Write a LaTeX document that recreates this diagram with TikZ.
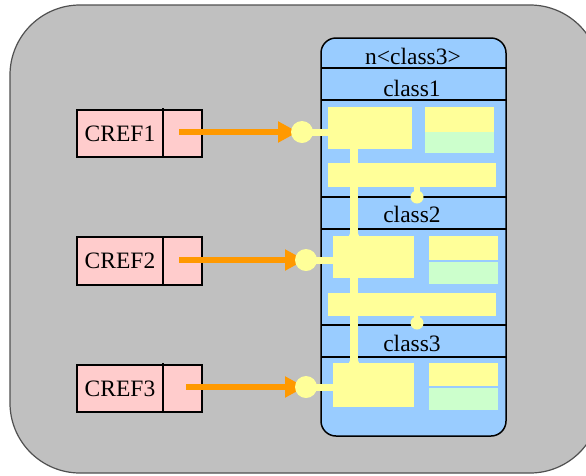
\documentclass[tikz,border=0pt]{standalone}
\usepackage{fontspec}
\setmainfont{Liberation Serif}
\usetikzlibrary{arrows.meta}
\definecolor{bggray}{HTML}{C0C0C0}
\definecolor{framegray}{HTML}{505050}
\definecolor{pinkc}{HTML}{FFCCCC}
\definecolor{bluec}{HTML}{99CCFF}
\definecolor{yelc}{HTML}{FFFF99}
\definecolor{greenc}{HTML}{CCFFCC}
\definecolor{orangec}{HTML}{FF9900}
\tikzset{
  rect/.style={inner sep=0, outer sep=0, anchor=north west},
  ybox/.style={rect, fill=yelc},
  gbox/.style={rect, fill=greenc},
  crefbox/.style={rect, draw=black, line width=1.3pt, fill=pinkc, font=\fontsize{23.5}{27}\selectfont},
  lbl/.style={inner sep=0, anchor=base, font=\fontsize{23.5}{27}\selectfont},
  ydot/.style={circle, fill=yelc, inner sep=0, outer sep=0, minimum size=22pt},
  jdot/.style={circle, fill=yelc, inner sep=0, outer sep=0, minimum size=13pt},
  ylink/.style={draw=yelc, line width=7pt},
  refarrow/.style={draw=orangec, line width=6.5pt, -{Triangle[length=20pt,width=20pt]}},
  sepline/.style={draw=black, line width=1.3pt}
}
\begin{document}
\begin{tikzpicture}[x=1pt,y=-1pt]
\useasboundingbox (0,0) rectangle (586,475);
\fill[white] (0,0) rectangle (586,475);
% outer frame
\filldraw[fill=bggray, draw=framegray, line width=1.2pt, rounded corners=70pt] (10,5) rectangle (600,473);
% blue class box
\fill[bluec, rounded corners=15pt] (321,38) rectangle (506,436);
\draw[sepline] (321,68) -- (506,68);
\draw[sepline] (321,100) -- (506,100);
\draw[sepline] (321,197) -- (506,197);
\draw[sepline] (321,229) -- (506,229);
\draw[sepline] (321,325) -- (506,325);
\draw[sepline] (321,357) -- (506,357);
\draw[black, line width=1.5pt, rounded corners=15pt] (321,38) rectangle (506,436);
\node[lbl] (hdr) at (413,64) {n<class3>};
\node[lbl] (c1) at (412,96) {class1};
\node[lbl] (c2) at (412,222) {class2};
\node[lbl] (c3) at (412,351) {class3};
% yellow / green blocks
\node[ybox, minimum width=84pt, minimum height=42pt] (b1) at (328,107) {};
\node[ybox, minimum width=69pt, minimum height=25pt] (r1) at (425,107) {};
\node[gbox, minimum width=69pt, minimum height=21pt] (g1) at (425,132) {};
\node[ybox, minimum width=168pt, minimum height=24pt] (bar1) at (328,163) {};
\node[ybox, minimum width=81pt, minimum height=42pt] (b2) at (333,236) {};
\node[ybox, minimum width=69pt, minimum height=24pt] (r2) at (429,236) {};
\node[gbox, minimum width=69pt, minimum height=22pt] (g2) at (429,262) {};
\node[ybox, minimum width=168pt, minimum height=23pt] (bar2) at (328,293) {};
\node[ybox, minimum width=81pt, minimum height=44pt] (b3) at (333,363) {};
\node[ybox, minimum width=69pt, minimum height=23pt] (r3) at (429,363) {};
\node[gbox, minimum width=69pt, minimum height=22pt] (g3) at (429,388) {};
% junction dots
\node[jdot] (jd1) at (417,197) {};
\node[jdot] (jd2) at (417,323) {};
\draw[draw=yelc, line width=6pt] (bar1.south -| jd1) -- (jd1.center);
\draw[draw=yelc, line width=6pt] (bar2.south -| jd2) -- (jd2.center);
\coordinate (vtop) at (354,149);
\node[jdot, minimum size=11pt] (ja) at (354,237) {};
\node[jdot, minimum size=11pt] (jb) at (354,364) {};
\draw[draw=yelc, line width=8pt] (vtop) -- (jb.center);
% CREF boxes
\node[crefbox, minimum width=86pt, minimum height=47pt] (cref1) at (77,110) {CREF1};
\node[crefbox, minimum width=39pt, minimum height=47pt] (cref1r) at (163,110) {};
\node[crefbox, minimum width=86pt, minimum height=48pt] (cref2) at (77,237) {CREF2};
\node[crefbox, minimum width=39pt, minimum height=48pt] (cref2r) at (163,237) {};
\node[crefbox, minimum width=86pt, minimum height=47pt] (cref3) at (77,365) {CREF3};
\node[crefbox, minimum width=39pt, minimum height=47pt] (cref3r) at (163,365) {};
\draw[black, line width=1.3pt] ([yshift=2pt]cref1r.north west) -- (cref1r.south west);
\draw[black, line width=1.3pt] ([yshift=2pt]cref3r.north west) -- (cref3r.south west);
% reference dots
\coordinate (p1) at (302,132);
\coordinate (p2) at (306,260);
\coordinate (p3) at (306,387);
\draw[refarrow, shorten <=-3.5pt, shorten >=4pt] (cref1r.center |- p1) -- (p1);
\draw[refarrow, shorten <=-3.5pt, shorten >=1pt] (cref2r.center |- p2) -- (p2);
\draw[refarrow, shorten <=3.5pt, shorten >=1pt] (cref3r.center |- p3) -- (p3);
\node[ydot] (d1) at (p1) {};
\node[ydot] (d2) at (p2) {};
\node[ydot] (d3) at (p3) {};
\draw[ylink] (d1.center) -- (d1.center -| b1.west);
\draw[ylink] (d2.center) -- (d2.center -| b2.west);
\draw[ylink] (d3.center) -- (d3.center -| b3.west);
\end{tikzpicture}
\end{document}
